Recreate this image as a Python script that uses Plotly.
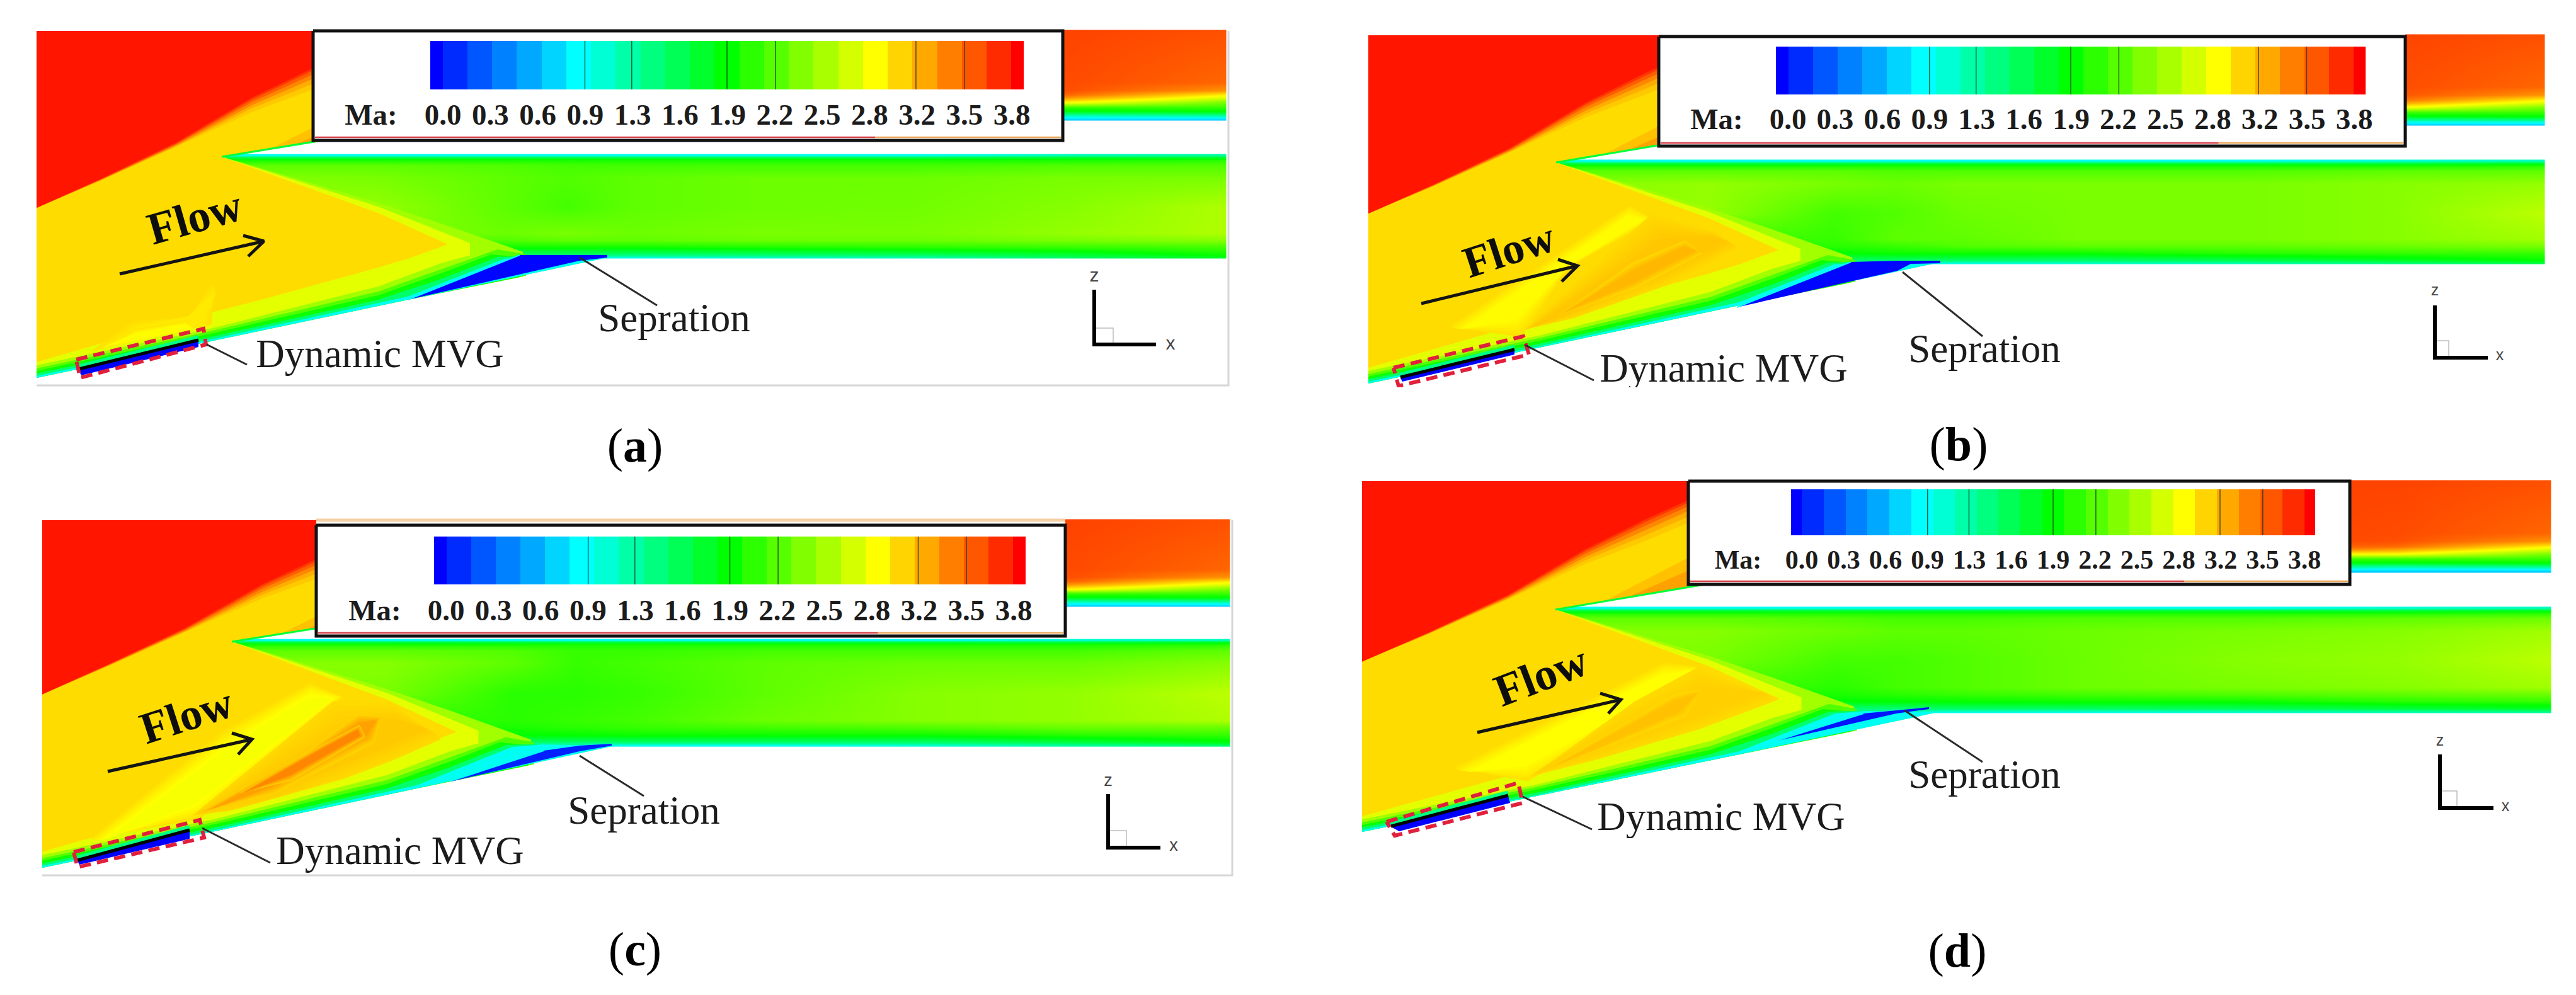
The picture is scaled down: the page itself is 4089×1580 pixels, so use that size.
import numpy as np
import plotly.graph_objects as go

W, H = 4089, 1580
FONT = "Liberation Serif"

# ---------- colour scale (Mach number) ----------
MA_MIN, MA_MAX = 0.0, 3.8
SCALE_POS = [0.0, 0.25, 0.5, 0.75, 1.0]
SCALE_RGB = [(0, 0, 255), (0, 255, 255), (0, 255, 0), (255, 255, 0), (255, 0, 0)]
COLORSCALE = [[p, "rgb(%d,%d,%d)" % c] for p, c in zip(SCALE_POS, SCALE_RGB)]

tick_labels = ["0.0", "0.3", "0.6", "0.9", "1.3", "1.6", "1.9", "2.2", "2.5", "2.8", "3.2", "3.5", "3.8"]
cbar_levels = [0.00, 0.16, 0.32, 0.48, 0.63, 0.79, 0.95, 1.11, 1.27, 1.43, 1.58, 1.74, 1.90,
               2.06, 2.22, 2.38, 2.53, 2.69, 2.85, 3.01, 3.17, 3.33, 3.48, 3.64, 3.80]
cbar_rules = [0.99, 1.29, 1.90, 2.21, 3.11, 3.42]

# ---------- shared flow contours, in the coordinates of panel (a) ----------
wall_tail = [(647, 476), (58, 600)]
gold_base = [(58, 49), (700, 49), (700, 192), (352, 249), (600, 338), (711, 388), (650, 410), (600, 425),
             (400, 480), (300, 505), (58, 575)]
contour_250 = [(58, 49), (700, 49), (700, 192), (352, 249), (600, 322), (700, 355), (802, 390), (700, 432),
               (600, 462), (325, 528), (58, 585)]
contour_275 = [(58, 49), (700, 49), (700, 192), (352, 249), (600, 328), (746, 386), (680, 420), (600, 448),
               (325, 522), (58, 582)]
strip_275 = [(58, 577), (325, 518), (600, 442), (700, 398), (746, 386), (746, 455)]
strip_250 = [(58, 580), (325, 524), (600, 455), (700, 418), (802, 390), (830, 400), (830, 439)]
strip_220 = [(58, 585), (325, 528), (600, 463), (700, 428), (790, 396), (835, 404), (835, 438)]
strip_195 = [(58, 589), (325, 532), (600, 469), (700, 434), (780, 404), (825, 408), (825, 440)]
strip_150 = [(58, 593), (325, 537), (600, 476), (700, 443), (790, 408), (860, 406), (964, 409)]
strip_100 = [(58, 597), (325, 541), (647, 471), (700, 450), (800, 411), (850, 407), (964, 409)]
red_305 = [(58, 330), (160, 287), (280, 233), (400, 178), (497, 142), (700, 58), (700, 49), (58, 49)]
red_315 = [(58, 330), (160, 286), (280, 232), (400, 172), (497, 133), (695, 49), (58, 49)]
red_330 = [(58, 330), (160, 286), (280, 231), (400, 167), (497, 125), (672, 49), (58, 49)]
red_345 = [(58, 330), (160, 285), (280, 229), (400, 162), (497, 118), (654, 49), (58, 49)]
red_360 = [(58, 330), (160, 285), (280, 228), (400, 158), (497, 112), (642, 49), (58, 49)]
red_372 = [(58, 330), (160, 284), (280, 226), (400, 155), (497, 108), (633, 49), (58, 49)]
cowl_308 = [(430, 236), (700, 100), (700, 192)]
cowl_320 = [(470, 229), (700, 130), (700, 192)]
cowl_edge = [(352, 249), (700, 192)]

# channel field: rows (y) and columns (x) in panel (a) coordinates, values are Ma
chan_y = [246, 249, 254, 262, 282, 328, 370, 381, 392, 404, 409]
chan_x = [352, 600, 800, 900, 1000, 1200, 1450, 1700, 1945]
chan_a = [
    [1.0, 1.0, 1.0, 1.0, 1.0, 1.0, 1.0, 1.2, 1.3],
    [1.6, 1.6, 1.6, 1.6, 1.6, 1.6, 1.6, 1.7, 1.7],
    [2.0, 2.0, 2.0, 2.0, 2.0, 2.0, 2.0, 2.0, 2.05],
    [2.25, 2.25, 2.2, 2.15, 2.15, 2.15, 2.15, 2.2, 2.2],
    [2.4, 2.35, 2.25, 2.2, 2.25, 2.3, 2.3, 2.35, 2.35],
    [2.45, 2.45, 2.25, 2.15, 2.25, 2.3, 2.32, 2.4, 2.55],
    [2.45, 2.4, 2.3, 2.35, 2.3, 2.35, 2.35, 2.45, 2.55],
    [2.25, 2.25, 2.2, 2.25, 2.25, 2.3, 2.3, 2.35, 2.4],
    [1.95, 1.95, 1.95, 1.95, 1.95, 2.0, 2.05, 2.1, 2.15],
    [1.5, 1.5, 1.5, 1.5, 1.45, 1.5, 1.55, 1.7, 1.95],
    [1.0, 1.0, 1.0, 1.0, 1.0, 1.1, 1.2, 1.5, 1.75],
]
chan_b = [
    [1.0, 1.0, 1.0, 1.0, 1.0, 1.0, 1.0, 1.1, 1.2],
    [1.6, 1.6, 1.6, 1.6, 1.6, 1.6, 1.6, 1.6, 1.7],
    [2.0, 2.0, 2.0, 2.0, 2.0, 2.0, 2.0, 2.0, 2.05],
    [2.25, 2.25, 2.25, 2.2, 2.2, 2.2, 2.2, 2.25, 2.25],
    [2.4, 2.45, 2.35, 2.3, 2.35, 2.35, 2.35, 2.4, 2.45],
    [2.45, 2.45, 2.15, 2.2, 2.3, 2.35, 2.35, 2.4, 2.6],
    [2.45, 2.15, 2.1, 2.25, 2.25, 2.35, 2.35, 2.4, 2.5],
    [2.2, 2.05, 2.05, 2.1, 2.2, 2.25, 2.25, 2.3, 2.35],
    [1.95, 1.9, 1.9, 1.95, 1.95, 1.95, 2.05, 2.1, 2.1],
    [1.5, 1.5, 1.5, 1.5, 1.5, 1.5, 1.6, 1.75, 1.9],
    [1.0, 1.0, 1.0, 1.0, 1.0, 1.1, 1.2, 1.4, 1.6],
]
chan_c = [
    [1.0, 1.0, 1.0, 1.0, 1.0, 1.0, 1.0, 1.1, 1.2],
    [1.6, 1.6, 1.6, 1.6, 1.6, 1.6, 1.6, 1.6, 1.7],
    [2.0, 2.0, 2.0, 2.0, 2.0, 2.0, 2.0, 2.0, 2.05],
    [2.25, 2.25, 2.2, 2.1, 2.1, 2.15, 2.15, 2.15, 2.25],
    [2.4, 2.4, 2.25, 2.1, 2.15, 2.25, 2.3, 2.3, 2.4],
    [2.45, 2.35, 2.05, 2.05, 2.1, 2.25, 2.4, 2.45, 2.6],
    [2.45, 2.1, 2.05, 2.1, 2.15, 2.3, 2.4, 2.45, 2.55],
    [2.2, 2.0, 2.0, 2.05, 2.1, 2.15, 2.2, 2.3, 2.3],
    [1.95, 1.9, 1.9, 1.92, 1.95, 1.95, 1.95, 2.05, 2.1],
    [1.5, 1.5, 1.5, 1.5, 1.5, 1.5, 1.5, 1.65, 1.85],
    [1.0, 1.0, 1.0, 1.0, 1.0, 1.0, 1.1, 1.3, 1.5],
]
chan_d = [
    [1.0, 1.0, 1.0, 1.0, 1.0, 1.0, 1.0, 1.1, 1.2],
    [1.6, 1.6, 1.6, 1.6, 1.6, 1.6, 1.6, 1.6, 1.7],
    [2.0, 2.0, 2.0, 2.0, 2.0, 2.0, 2.0, 2.0, 2.05],
    [2.25, 2.25, 2.2, 2.15, 2.15, 2.2, 2.2, 2.25, 2.3],
    [2.4, 2.4, 2.3, 2.25, 2.25, 2.3, 2.35, 2.4, 2.5],
    [2.45, 2.35, 2.15, 2.15, 2.2, 2.3, 2.4, 2.45, 2.6],
    [2.45, 2.15, 2.05, 2.15, 2.2, 2.3, 2.35, 2.4, 2.5],
    [2.2, 2.0, 2.0, 2.05, 2.1, 2.15, 2.2, 2.25, 2.3],
    [1.95, 1.85, 1.9, 1.9, 1.92, 1.95, 1.95, 2.05, 2.1],
    [1.5, 1.45, 1.45, 1.45, 1.5, 1.5, 1.55, 1.65, 1.75],
    [1.0, 1.0, 1.0, 1.0, 1.0, 1.0, 1.1, 1.2, 1.3],
]

# intake block top right
block_x = [1500, 1700, 1945]
block_y = [49, 130, 143, 150, 155, 162, 170, 176, 182, 186, 190]
block_ma = [
    [3.55, 3.55, 3.5],
    [3.55, 3.52, 3.42],
    [3.55, 3.5, 3.25],
    [3.5, 3.4, 2.9],
    [3.4, 3.2, 2.7],
    [2.9, 2.85, 2.35],
    [2.1, 2.1, 2.1],
    [1.9, 1.85, 1.9],
    [1.4, 1.3, 1.4],
    [1.0, 0.95, 1.0],
    [0.75, 0.75, 0.75],
]

# ---------- panel specific read-offs (page pixels) ----------
frame_a = dict(L=58, R=1945, T=49, B=612, tip=(352, 250), chb=409, wl=599)
frame_b = dict(L=2172, R=4038, T=56, B=615, tip=(2470, 259), chb=418, wl=608)
frame_c = dict(L=67, R=1951, T=826, B=1390, tip=(368, 1020), chb=1184, wl=1377)
frame_d = dict(L=2162, R=4048, T=764, B=1331, tip=(2469, 969), chb=1131, wl=1320)

legend_a = dict(box=(497, 1687, 49, 223), bar=(683, 1625, 65, 142), ly=186, ma=589, first=703, last=1606, fs=47)
legend_b = dict(box=(2633, 3818, 58, 232), bar=(2819, 3755, 74, 150), ly=193, ma=2725, first=2838, last=3737, fs=47)
legend_c = dict(box=(502, 1691, 834, 1010), bar=(689, 1628, 852, 928), ly=973, ma=595, first=708, last=1609, fs=47)
legend_d = dict(box=(2680, 3730, 764, 928), bar=(2843, 3675, 777, 850), ly=892, ma=2759, first=2860, last=3658, fs=42)

core_a = [
    (2.93, [(130, 570), (215, 515), (300, 503), (335, 460), (342, 462), (332, 500), (330, 528)]),
    (2.86, [(165, 552), (215, 526), (295, 512), (312, 525)]),
]
core_b = [
    (2.86, [(2312, 521), (2456, 423), (2585, 335), (2618, 348), (2490, 423), (2410, 521)]),
    (3.06, [(2427, 521), (2630, 360), (2720, 372), (2750, 388), (2639, 445), (2501, 499)]),
    (3.12, [(2478, 499), (2593, 423), (2674, 387), (2697, 400), (2593, 454)]),
]
core_c = [
    (2.82, [(155, 1334), (359, 1174), (492, 1096), (535, 1108), (455, 1174), (314, 1287), (250, 1306)]),
    (3.05, [(314, 1292), (537, 1135), (625, 1130), (690, 1165), (614, 1198), (435, 1268)]),
    (3.2, [(327, 1287), (486, 1198), (569, 1141), (601, 1141), (588, 1174), (435, 1254)]),
    (3.3, [(384, 1259), (499, 1193), (569, 1155), (576, 1169), (461, 1235)]),
]
core_d = [
    (2.85, [(2319, 1223), (2449, 1158), (2640, 1062), (2695, 1062), (2514, 1178), (2423, 1228)]),
    (3.03, [(2436, 1228), (2600, 1125), (2700, 1075), (2810, 1105), (2690, 1150), (2540, 1198)]),
    (3.08, [(2462, 1218), (2658, 1108), (2697, 1098), (2671, 1133), (2540, 1188)]),
]
# how each read contour is feathered: (minor scale, major scale, fraction of the contour's Ma step)
feather = [(1.4, 1.04, 0.17), (1.25, 1.03, 0.33), (1.1, 1.02, 0.5), (0.95, 1.0, 0.67), (0.8, 0.98, 0.83), (0.65, 0.96, 1.0)]

sep_a = [(647, 476), (825, 405), (964, 405), (964, 409), (920, 414)]
sep_b = [(2757, 488), (2938, 416), (3012, 414), (3080, 414), (3080, 418), (3033, 419), (3012, 430)]
sep_c = [(716, 1240), (863, 1192), (920, 1184), (971, 1181), (971, 1184), (920, 1193), (716, 1241)]
sep_d = [(2814, 1178), (2958, 1133), (3062, 1123), (3062, 1126), (3010, 1133)]
sep_ma = [0.02, 0.02, 0.12, 0.08]

mvg_a = dict(box=[(121, 571), (323, 522), (327, 547), (127, 600)], wire=[(125, 586), (315, 540)],
             blue=[(125, 588), (315, 542), (315, 551), (129, 596)])
mvg_b = dict(box=[(2212, 584), (2418, 534), (2427, 563), (2220, 613)], wire=[(2223, 599), (2404, 555)],
             blue=[(2223, 600), (2404, 556), (2404, 563), (2226, 606)])
mvg_c = dict(box=[(117, 1353), (317, 1302), (324, 1330), (123, 1377)], wire=[(123, 1366), (301, 1318)],
             blue=[(123, 1367), (301, 1319), (301, 1332), (126, 1373)])
mvg_d = dict(box=[(2201, 1305), (2410, 1243), (2417, 1275), (2214, 1327)], wire=[(2208, 1312), (2394, 1263)],
             blue=[(2208, 1313), (2394, 1264), (2397, 1275), (2221, 1320)])

flow_a = dict(c=(309, 345), fs=72, ang=-16, shaft=[(190, 435), (419, 383)], barbs=[(386, 374), (419, 383), (394, 407)])
flow_b = dict(c=(2395, 396), fs=70, ang=-18, shaft=[(2256, 482), (2504, 422)], barbs=[(2473, 412), (2504, 422), (2479, 447)])
flow_c = dict(c=(296, 1136), fs=71, ang=-18, shaft=[(171, 1225), (400, 1174)], barbs=[(368, 1164), (400, 1174), (378, 1198)])
flow_d = dict(c=(2446, 1073), fs=72, ang=-21, shaft=[(2345, 1163), (2573, 1111)], barbs=[(2540, 1101), (2573, 1111), (2553, 1133)])

note_a = dict(mvg=(603, 567), mvg_line=[(328, 547), (392, 579)], sep=(1070, 510), sep_line=[(920, 409), (1043, 485)], fs=63)
note_b = dict(mvg=(2736, 590), mvg_line=[(2421, 548), (2530, 604)], sep=(3150, 559), sep_line=[(3020, 432), (3147, 534)], fs=63)
note_c = dict(mvg=(635, 1356), mvg_line=[(321, 1315), (429, 1370)], sep=(1022, 1292), sep_line=[(920, 1200), (1022, 1264)], fs=63)
note_d = dict(mvg=(2732, 1302), mvg_line=[(2417, 1265), (2527, 1317)], sep=(3150, 1235), sep_line=[(3023, 1128), (3147, 1210)], fs=63)

triad_a = dict(o=(1737, 547), z_top=460, x_end=1835, z=(1737, 439), x=(1858, 547), sq=(1767, 521), fs=30)
triad_b = dict(o=(3865, 568), z_top=485, x_end=3949, z=(3865, 463), x=(3968, 566), sq=(3887, 541), fs=25)
triad_c = dict(o=(1759, 1346), z_top=1261, x_end=1842, z=(1759, 1241), x=(1863, 1344), sq=(1788, 1319), fs=27)
triad_d = dict(o=(3873, 1283), z_top=1198, x_end=3958, z=(3873, 1178), x=(3977, 1282), sq=(3900, 1256), fs=25)

captions = ["a", "b", "c", "d"]
caption_xy = [(1008, 714), (3109, 712), (1008, 1514), (3107, 1516)]

panels = [
    (frame_a, legend_a, chan_a, core_a, sep_a, mvg_a, flow_a, note_a, triad_a),
    (frame_b, legend_b, chan_b, core_b, sep_b, mvg_b, flow_b, note_b, triad_b),
    (frame_c, legend_c, chan_c, core_c, sep_c, mvg_c, flow_c, note_c, triad_c),
    (frame_d, legend_d, chan_d, core_d, sep_d, mvg_d, flow_d, note_d, triad_d),
]


def ma_color(ma):
    t = (ma - MA_MIN) / (MA_MAX - MA_MIN)
    rgb = [np.interp(t, SCALE_POS, [c[k] for c in SCALE_RGB]) for k in range(3)]
    return "rgb(%d,%d,%d)" % tuple(int(round(v)) for v in rgb)


def mapper(fr):
    tx, ty = fr["tip"]

    def mx(x):
        return np.interp(x, [0, 58, 352, 1945], [fr["L"] - 58, fr["L"], tx, fr["R"]])

    def my(y):
        return np.interp(y, [0, 49, 250, 409, 599, 640],
                         [fr["T"] - 49, fr["T"], ty, fr["chb"], fr["wl"], fr["wl"] + 41])

    return mx, my


fig = go.Figure()
AX1 = dict(xaxis="x", yaxis="y")
AX2 = dict(xaxis="x2", yaxis="y2")


def poly(ma, pts, ax=AX1, color=None):
    fig.add_trace(go.Scatter(x=[p[0] for p in pts], y=[p[1] for p in pts], mode="lines", fill="toself",
                             fillcolor=color or ma_color(ma), line=dict(width=0), hoverinfo="skip",
                             showlegend=False, **ax))


def line(pts, color, width, dash=None, ax=AX1):
    fig.add_trace(go.Scatter(x=[p[0] for p in pts], y=[p[1] for p in pts], mode="lines",
                             line=dict(color=color, width=width, dash=dash), hoverinfo="skip",
                             showlegend=False, **ax))


def text(x, y, s, size, color="#1c1c1c", bold=False, family=FONT):
    fig.add_trace(go.Scatter(x=[x], y=[y], mode="text", text=["<b>%s</b>" % s if bold else s],
                             textposition="middle center",
                             textfont=dict(family=family, size=size, color=color),
                             hoverinfo="skip", showlegend=False, **AX2))


def field(xs, ys, z):
    z = np.array(z, dtype=float)
    # repeat the outer rows and columns so the smoothed image stops at the read edge
    xs2 = [xs[0] - 1] + list(xs) + [xs[-1] + 1]
    ys2 = [ys[0] - 1] + list(ys) + [ys[-1] + 1]
    z2 = np.pad(z, 1, mode="edge")
    fig.add_trace(go.Heatmap(x=xs2, y=ys2, z=z2.tolist(), zmin=MA_MIN, zmax=MA_MAX, colorscale=COLORSCALE,
                             zsmooth="best", showscale=False, hoverinfo="skip", **AX1))


def feathered(ma, pts, base=2.98):
    p = np.array(pts, dtype=float)
    c = p.mean(axis=0)
    _, _, vt = np.linalg.svd(p - c)
    a = (p - c) @ vt.T
    for s_minor, s_major, frac in feather:
        q = c + (a * [s_major, s_minor]) @ vt
        poly(base + (ma - base) * frac, [tuple(v) for v in q])


annotations = []
for idx, (fr, leg, chan, core, sep, mvg, flow, note, triad) in enumerate(panels):
    mx, my = mapper(fr)

    def M(pts):
        return [(float(mx(p[0])), float(my(p[1]))) for p in pts]

    field([float(mx(v)) for v in chan_x], [float(my(v)) for v in chan_y], chan)
    field([float(mx(v)) for v in block_x], [float(my(v)) for v in block_y], block_ma)

    poly(2.50, M(contour_250))
    poly(2.75, M(contour_275))
    poly(2.98, M(gold_base))
    for ma, pts in core:
        feathered(ma, pts)
    tail = M(wall_tail)
    for ma, strip in [(2.75, strip_275), (2.5, strip_250), (2.2, strip_220), (1.95, strip_195),
                      (1.5, strip_150), (1.0, strip_100)]:
        poly(ma, M(strip) + tail)
    for ma, pts in [(3.05, red_305), (3.15, red_315), (3.3, red_330), (3.45, red_345), (3.6, red_360),
                    (3.72, red_372)]:
        poly(ma, M(pts))
    poly(3.08, M(cowl_308))
    poly(3.2, M(cowl_320))
    line(M(cowl_edge), ma_color(1.7), 3)
    poly(sep_ma[idx], sep)
    line(sep[:2], ma_color(1.0), 2)

    # MVG slot
    line([(p[0], p[1] - 5) for p in mvg["wire"]], ma_color(1.4), 5)
    poly(0.0, mvg["blue"])
    line(mvg["wire"], "#000000", 5)
    line(mvg["box"] + mvg["box"][:1], "#E0203C", 6, dash="18px,10px")

    # legend box (its white reaches the top of the panel)
    x0, x1, y0, y1 = leg["box"]
    poly(0, [(x0, fr["T"] - 2), (x1, fr["T"] - 2), (x1, y1), (x0, y1)], color="#ffffff")

    # panel hairlines
    if idx in (0, 2):
        line([(fr["L"], fr["B"]), (fr["R"] + 5, fr["B"]), (fr["R"] + 5, fr["T"])], "#d6d6d6", 3)
    if idx == 2:
        line([(x0, fr["T"]), (x1, fr["T"])], "#F6CFA6", 5)

# second layer: colour bars, rules, texts
for idx, (fr, leg, chan, core, sep, mvg, flow, note, triad) in enumerate(panels):
    x0, x1, y0, y1 = leg["box"]
    bx0, bx1, by0, by1 = leg["bar"]
    step = (bx1 - bx0) / (len(cbar_levels) - 1)
    edges = [bx0] + [bx0 + (i + 0.5) * step for i in range(len(cbar_levels) - 1)] + [bx1]
    fig.add_trace(go.Heatmap(x=edges, y=[by0, by1], z=[cbar_levels], zmin=MA_MIN, zmax=MA_MAX,
                             colorscale=COLORSCALE, showscale=False, hoverinfo="skip", **AX2))
    for r in cbar_rules:
        xr = bx0 + r / MA_MAX * (bx1 - bx0)
        line([(xr, by0), (xr, by1)], "rgba(30,60,30,0.8)", 1.5, ax=AX2)

    line([(x0, y0), (x1, y0), (x1, y1), (x0, y1), (x0, y0)], "#111111", 5, ax=AX2)
    split = x0 + 0.75 * (x1 - x0)
    line([(x0 + 3, y1 - 5), (split, y1 - 5)], "#D8404A", 2.5, ax=AX2)
    line([(split, y1 - 5), (x1 - 3, y1 - 5)], "#EBA85A", 2.5, ax=AX2)

    text(leg["ma"], leg["ly"], "Ma:", leg["fs"], bold=True)
    centers = np.linspace(leg["first"], leg["last"], len(tick_labels))
    for cx, lab in zip(centers, tick_labels):
        text(float(cx), leg["ly"], lab, leg["fs"], bold=True)

    # annotation leaders
    line(note["mvg_line"], "#2b2b2b", 3, ax=AX2)
    line(note["sep_line"], "#2b2b2b", 3, ax=AX2)
    text(note["mvg"][0], note["mvg"][1], "Dynamic MVG", note["fs"])
    text(note["sep"][0], note["sep"][1], "Sepration", note["fs"])

    # flow arrow
    line(flow["shaft"], "#141414", 5, ax=AX2)
    line(flow["barbs"], "#141414", 5, ax=AX2)
    annotations.append(dict(x=flow["c"][0], y=flow["c"][1], xref="x2", yref="y2", text="<b>Flow</b>",
                            showarrow=False, textangle=flow["ang"],
                            font=dict(family=FONT, size=flow["fs"], color="#0d0d0d")))

    # coordinate triad
    ox, oy = triad["o"]
    sx, sy = triad["sq"]
    line([(sx, oy), (sx, sy), (ox, sy)], "#bdbdbd", 1.5, ax=AX2)
    line([(ox, triad["z_top"]), (ox, oy)], "#000000", 6, ax=AX2)
    line([(ox - 3, oy), (triad["x_end"], oy)], "#000000", 6, ax=AX2)
    text(triad["z"][0], triad["z"][1], "z", triad["fs"], color="#444444", family="Liberation Sans")
    text(triad["x"][0], triad["x"][1], "x", triad["fs"], color="#444444", family="Liberation Sans")

    # sub-figure caption
    cx, cy = caption_xy[idx]
    text(cx, cy, "(<b>%s</b>)" % captions[idx], 76, color="#000000")

# panels (b) and (d) were cropped just under the MVG label
for fr in (frame_b, frame_d):
    poly(0, [(fr["L"] - 4, fr["B"]), (fr["R"] + 4, fr["B"]), (fr["R"] + 4, fr["B"] + 40), (fr["L"] - 4, fr["B"] + 40)],
         ax=AX2, color="#ffffff")

axis_common = dict(visible=False, showgrid=False, zeroline=False, fixedrange=True)
fig.update_layout(
    width=W, height=H, margin=dict(l=0, r=0, t=0, b=0), autosize=False,
    paper_bgcolor="#ffffff", plot_bgcolor="rgba(0,0,0,0)", showlegend=False,
    xaxis=dict(range=[0, W], domain=[0, 1], anchor="y", **axis_common),
    yaxis=dict(range=[H, 0], domain=[0, 1], anchor="x", **axis_common),
    xaxis2=dict(range=[0, W], domain=[0, 1], anchor="y2", **axis_common),
    yaxis2=dict(range=[H, 0], domain=[0, 1], anchor="x2", **axis_common),
    annotations=annotations,
)
fig.write_html("out.html", config=dict(displayModeBar=False),
               post_script="document.body.style.margin='0';document.documentElement.style.overflow='hidden';")
